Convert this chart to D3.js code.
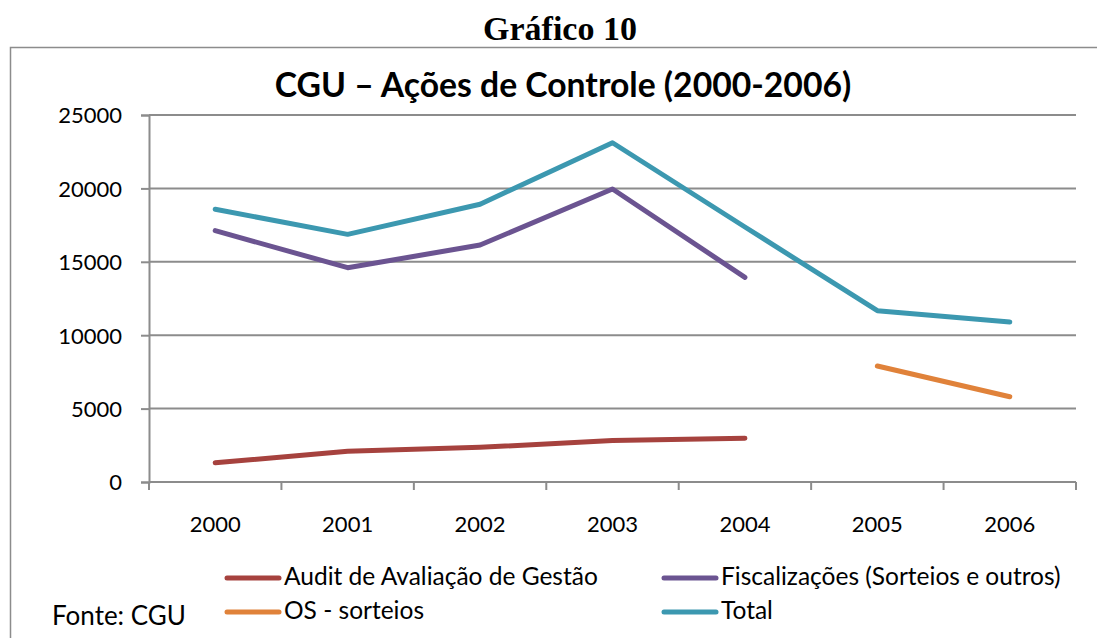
<!DOCTYPE html>
<html>
<head>
<meta charset="utf-8">
<script src="https://cdn.jsdelivr.net/npm/d3@7"></script>
<style>
  body { margin: 0; background: #fff; }
  svg { display: block; }
  text { font-family: Lato, "Open Sans", sans-serif; fill: #000; }
</style>
</head>
<body>
<svg id="chart" width="1097" height="638"></svg>
<script>
// data
const years = ['2000', '2001', '2002', '2003', '2004', '2005', '2006'];
const auditValues = [1310, 2090, 2360, 2820, 2980, null, null];
const fiscValues = [17120, 14600, 16140, 19960, 13940, null, null];
const osValues = [null, null, null, null, null, 7900, 5810];
const totalValues = [18580, 16870, 18920, 23110, 17370, 11670, 10900];
const yTicks = [0, 5000, 10000, 15000, 20000, 25000];

const seriesList = [
  {name: 'Audit de Avaliação de Gestão', values: auditValues, color: '#A6423E'},
  {name: 'Fiscalizações (Sorteios e outros)', values: fiscValues, color: '#6B5491'},
  {name: 'OS - sorteios', values: osValues, color: '#E0823A'},
  {name: 'Total', values: totalValues, color: '#3C98B0'}
];

const svg = d3.select('#chart');
const plot = {left: 149, right: 1076, top: 115, bottom: 482};

// frame around the chart (runs off the right/bottom edge as in the scan)
svg.append('path')
  .attr('d', 'M10.5,640 V47.5 H1100')
  .attr('fill', 'none')
  .attr('stroke', '#8c8c8c')
  .attr('stroke-width', 1.5);

svg.append('text')
  .attr('x', 560).attr('y', 40)
  .attr('text-anchor', 'middle')
  .style('font-family', '"Liberation Serif", "Times New Roman", serif')
  .style('font-weight', 'bold')
  .style('font-size', '34px')
  .text('Gráfico 10');

svg.append('text')
  .attr('x', 563).attr('y', 97)
  .attr('text-anchor', 'middle')
  .style('font-weight', 'bold')
  .style('font-size', '33.7px')
  .text('CGU – Ações de Controle (2000-2006)');

const xScale = d3.scaleBand()
  .domain(years)
  .range([plot.left, plot.right]);

const yScale = d3.scaleLinear()
  .domain([0, 25000])
  .range([plot.bottom, plot.top]);

// gridlines
svg.append('g')
  .selectAll('line')
  .data(yTicks.filter((t) => t > 0))
  .enter()
  .append('line')
  .attr('x1', plot.left).attr('x2', plot.right)
  .attr('y1', (d) => yScale(d)).attr('y2', (d) => yScale(d))
  .attr('stroke', '#8c8c8c')
  .attr('stroke-width', 2);

// y axis
const yAxis = svg.append('g')
  .attr('transform', 'translate(' + plot.left + ',0)')
  .call(d3.axisLeft(yScale).tickValues(yTicks).tickSize(8).tickPadding(19).tickFormat(d3.format('d')));
yAxis.selectAll('text').style('font-size', '22px').attr('dy', '0.36em');

// x axis: ticks on the band edges
const xAxis = svg.append('g')
  .attr('transform', 'translate(0,' + plot.bottom + ')');
xAxis.append('line')
  .attr('x1', plot.left).attr('x2', plot.right)
  .attr('stroke', '#8c8c8c').attr('stroke-width', 2);
const edges = years.map((y) => xScale(y)).concat([plot.right]);
xAxis.selectAll('.tick-mark')
  .data(edges)
  .enter()
  .append('line')
  .attr('class', 'tick-mark')
  .attr('x1', (d) => d).attr('x2', (d) => d)
  .attr('y1', 0).attr('y2', 8)
  .attr('stroke', '#8c8c8c').attr('stroke-width', 2);
xAxis.selectAll('.tick-label')
  .data(years)
  .enter()
  .append('text')
  .attr('class', 'tick-label')
  .attr('x', (d) => xScale(d) + xScale.bandwidth() / 2)
  .attr('y', 50)
  .attr('text-anchor', 'middle')
  .style('font-size', '22px')
  .text((d) => d);

yAxis.select('.domain').attr('stroke', '#8c8c8c').attr('stroke-width', 2);
yAxis.selectAll('.tick line').attr('stroke', '#8c8c8c').attr('stroke-width', 2);

// series lines
const line = d3.line()
  .defined((d) => d.v !== null)
  .x((d) => xScale(d.year) + xScale.bandwidth() / 2)
  .y((d) => yScale(d.v));

svg.append('g')
  .selectAll('path')
  .data(seriesList)
  .enter()
  .append('path')
  .attr('d', (s) => line(years.map((y, i) => ({year: y, v: s.values[i]}))))
  .attr('fill', 'none')
  .attr('stroke', (s) => s.color)
  .attr('stroke-width', 5)
  .attr('stroke-linecap', 'round')
  .attr('stroke-linejoin', 'round');

// legend
const legendPos = [
  {x: 227, y: 578}, {x: 664, y: 578},
  {x: 227, y: 612}, {x: 664, y: 612}
];
const legend = svg.append('g')
  .selectAll('g')
  .data(seriesList)
  .enter()
  .append('g')
  .attr('transform', (s, i) => 'translate(' + legendPos[i].x + ',' + legendPos[i].y + ')');
legend.append('line')
  .attr('x1', 0).attr('x2', 52)
  .attr('stroke', (s) => s.color)
  .attr('stroke-width', 5)
  .attr('stroke-linecap', 'round');
legend.append('text')
  .attr('x', 57).attr('y', 7)
  .style('font-size', '24.5px')
  .text((s) => s.name);

svg.append('text')
  .attr('x', 52).attr('y', 625)
  .style('font-size', '26px')
  .text('Fonte: CGU');
</script>
</body>
</html>
